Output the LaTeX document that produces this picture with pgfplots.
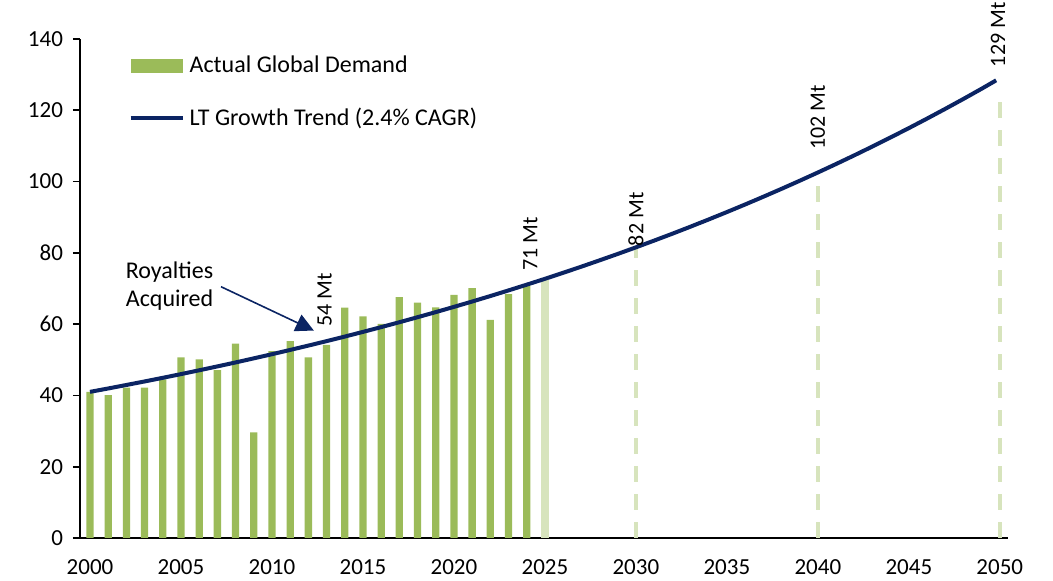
\documentclass[border=0pt]{standalone}
\usepackage{pgfplots}
\pgfplotsset{compat=1.18}
\usepackage{fontspec}
\setmainfont{Carlito}
\usetikzlibrary{arrows.meta}
\definecolor{bargreen}{HTML}{9BBB59}
\definecolor{lightgreen}{HTML}{D7E4BD}
\definecolor{navy}{HTML}{0B2463}
\begin{document}
\begin{tikzpicture}
\useasboundingbox (-40pt,-21.5pt) rectangle (486.5pt,269pt);
\begin{axis}[
  at={(0,0)}, anchor=south west,
  scale only axis, width=464pt, height=249.5pt,
  clip=false,
  xmin=1999.45, xmax=2050.45, ymin=0, ymax=140,
  axis x line*=bottom, axis y line*=left,
  axis line style={line width=0.8pt, -},
  xtick={2000,2005,...,2050}, ytick={0,20,...,140},
  x tick style={draw=none},
  y tick style={line width=0.8pt, black},
  major tick length=3.5pt,
  tick align=outside,
  xticklabel style={/pgf/number format/1000 sep={}, font=\fontsize{11.5}{13}\selectfont, yshift=-4pt},
  yticklabel style={font=\fontsize{11.5}{13}\selectfont, xshift=-1.5pt},
  /pgf/number format/assume math mode=true,
  legend cell align=left,
  legend style={draw=none, fill=none, at={(0.052,0.975)}, anchor=north west,
    font=\fontsize{12}{14}\selectfont, row sep=12pt, inner sep=0pt,
    nodes={inner xsep=2.5pt}},
]
\addplot[ybar, bar width=0.4, bar shift=0pt, fill=bargreen, draw=none,
  legend image code/.code={\fill[bargreen] (0pt,-3.5pt) rectangle (26pt,3.5pt);}]
coordinates {
(2000,41.0) (2001,40.1) (2002,42.2) (2003,42.2) (2004,44.5) (2005,50.7)
(2006,50.1) (2007,47.1) (2008,54.5) (2009,29.6) (2010,52.4) (2011,55.2)
(2012,50.7) (2013,54.2) (2014,64.6) (2015,62.2) (2016,60.1) (2017,67.6)
(2018,66.0) (2019,64.7) (2020,68.2) (2021,70.1) (2022,61.2) (2023,68.4)
(2024,70.8)};
\addlegendentry{Actual Global Demand}
\addplot[ybar, bar width=0.4, bar shift=0pt, fill=lightgreen, draw=none, forget plot]
coordinates {(2025,72.4)};
\addplot[ycomb, lightgreen, line width=2pt, dash pattern=on 8pt off 6pt, forget plot]
coordinates {(2030,81.0) (2040,100.5) (2050,123.5)};
\addplot[navy, line width=2pt, no marks,
  legend image code/.code={\draw[navy, line width=2pt] (0pt,0pt) -- (26pt,0pt);}]
coordinates {
(2000,41.00) (2001,41.95) (2002,42.93) (2003,43.92) (2004,44.94) (2005,45.98)
(2006,47.05) (2007,48.14) (2008,49.25) (2009,50.40) (2010,51.56) (2011,52.76)
(2012,53.98) (2013,55.23) (2014,56.51) (2015,57.82) (2016,59.16) (2017,60.53)
(2018,61.94) (2019,63.37) (2020,64.84) (2021,66.34) (2022,67.88) (2023,69.46)
(2024,71.07) (2025,72.71) (2026,74.40) (2027,76.12) (2028,77.89) (2029,79.69)
(2030,81.54) (2031,83.43) (2032,85.36) (2033,87.34) (2034,89.37) (2035,91.44)
(2036,93.56) (2037,95.73) (2038,97.95) (2039,100.22) (2040,102.54) (2041,104.92)
(2042,107.35) (2043,109.84) (2044,112.39) (2045,114.99) (2046,117.66) (2047,120.39)
(2048,123.18) (2049,126.04) (2049.8,128.4)};
\addlegendentry{LT Growth Trend (2.4\% CAGR)}
\draw[navy, line width=0.8pt, -{Triangle[length=9pt,width=9pt]}] (axis cs:2007.2,70.5) -- (axis cs:2012.3,58.2);
\node[anchor=west, align=left, font=\fontsize{12}{14}\selectfont, inner sep=0pt] at (axis cs:2001.95,70.6) {Royalties\\Acquired};
\node[rotate=90, anchor=west, inner sep=0pt, font=\fontsize{11}{12}\selectfont] at (axis cs:2012.9,59.2) {54 Mt};
\node[rotate=90, anchor=west, inner sep=0pt, font=\fontsize{11}{12}\selectfont] at (axis cs:2024.2,74.8) {71 Mt};
\node[rotate=90, anchor=west, inner sep=0pt, font=\fontsize{11}{12}\selectfont] at (axis cs:2030,81.8) {82 Mt};
\node[rotate=90, anchor=west, inner sep=0pt, font=\fontsize{11}{12}\selectfont] at (axis cs:2040,108.8) {102 Mt};
\node[rotate=90, anchor=west, inner sep=0pt, font=\fontsize{11}{12}\selectfont] at (axis cs:2049.9,132.0) {129 Mt};
\end{axis}
\end{tikzpicture}
\end{document}
